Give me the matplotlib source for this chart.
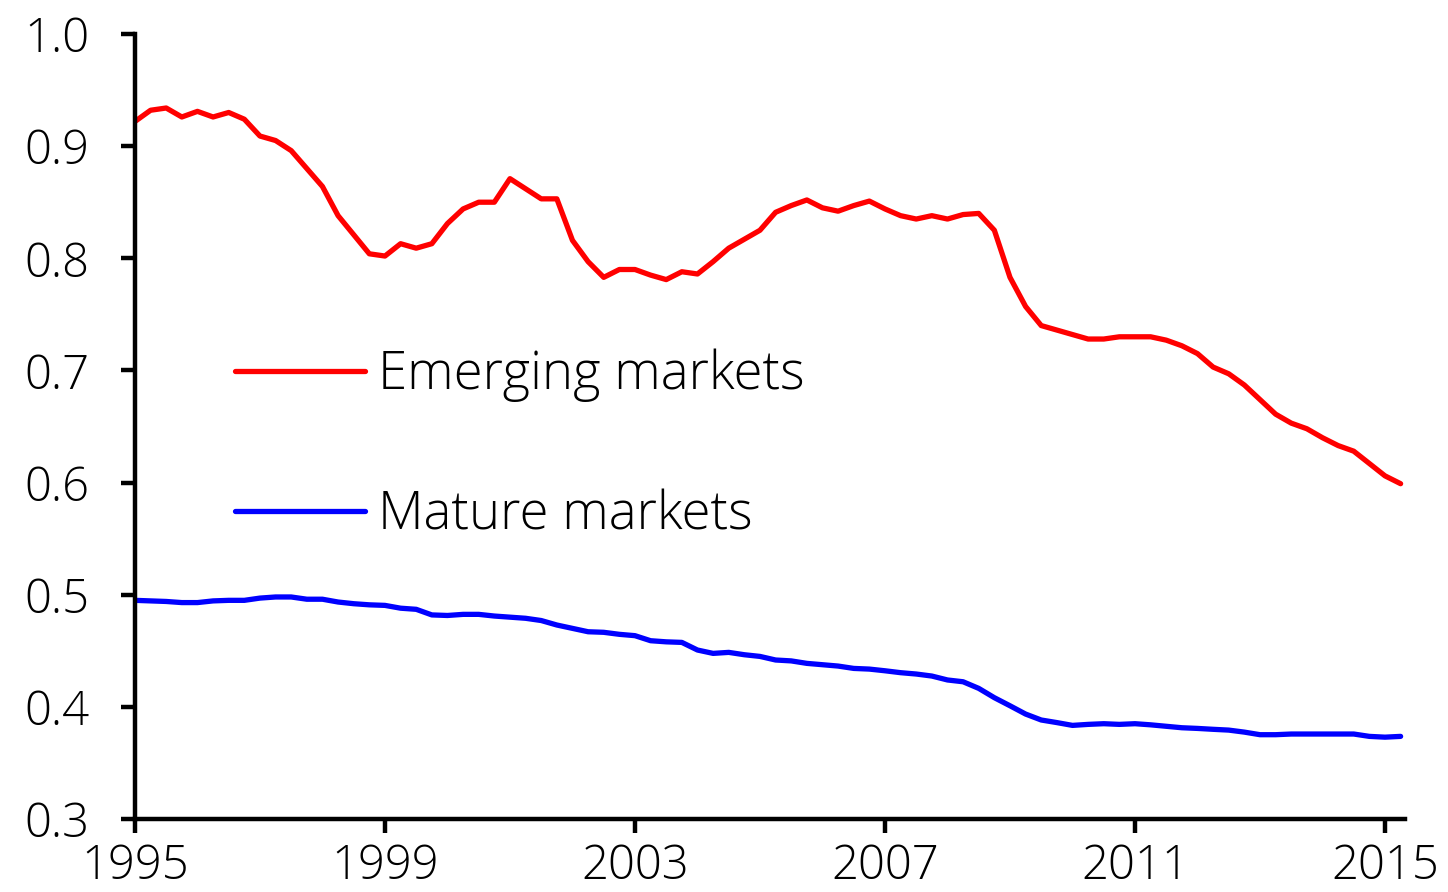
import numpy as np
import matplotlib
matplotlib.use('Agg')
import matplotlib.pyplot as plt

plt.rcParams['font.family'] = ['Open Sans', 'DejaVu Sans']
plt.rcParams['font.weight'] = 'light'

# quarterly observations, 1995Q1 .. 2015Q2
start_year = 1995
emerging = [
    0.922, 0.932, 0.934, 0.926, 0.931, 0.926, 0.930, 0.924, 0.909, 0.905,
    0.896, 0.880, 0.864, 0.838, 0.821, 0.804, 0.802, 0.813, 0.809, 0.813,
    0.831, 0.844, 0.850, 0.850, 0.871, 0.862, 0.853, 0.853, 0.816, 0.797,
    0.783, 0.790, 0.790, 0.785, 0.781, 0.788, 0.786, 0.797, 0.809, 0.817,
    0.825, 0.841, 0.847, 0.852, 0.845, 0.842, 0.847, 0.851, 0.844, 0.838,
    0.835, 0.838, 0.835, 0.839, 0.840, 0.825, 0.783, 0.757, 0.740, 0.736,
    0.732, 0.728, 0.728, 0.730, 0.730, 0.730, 0.727, 0.722, 0.715, 0.703,
    0.697, 0.687, 0.674, 0.661, 0.653, 0.648, 0.640, 0.633, 0.628, 0.617,
    0.606, 0.599,
]
mature = [
    0.495, 0.4945, 0.494, 0.493, 0.493, 0.4945, 0.495, 0.495, 0.497, 0.498,
    0.498, 0.496, 0.496, 0.4935, 0.492, 0.491, 0.4905, 0.488, 0.487, 0.482,
    0.4815, 0.4825, 0.4825, 0.481, 0.480, 0.479, 0.477, 0.473, 0.470, 0.467,
    0.4665, 0.4647, 0.4635, 0.459, 0.458, 0.4575, 0.4507, 0.4477, 0.4486, 0.4465,
    0.445, 0.4418, 0.441, 0.4388, 0.4376, 0.4364, 0.4343, 0.4337, 0.4322, 0.4305,
    0.4293, 0.4275, 0.424, 0.4224, 0.4165, 0.4082, 0.401, 0.3936, 0.3883, 0.386,
    0.3835, 0.3844, 0.385, 0.3844, 0.385, 0.384, 0.3827, 0.3814, 0.3808, 0.380,
    0.3793, 0.3775, 0.3752, 0.3752, 0.3758, 0.3758, 0.3758, 0.3758, 0.3758, 0.3737,
    0.373, 0.3737,
]
labels = ['Emerging markets', 'Mature markets']
year_ticks = [1995, 1999, 2003, 2007, 2011, 2015]
y_ticks = [0.3, 0.4, 0.5, 0.6, 0.7, 0.8, 0.9, 1.0]

t = start_year + np.arange(len(emerging)) / 4

fig = plt.figure(figsize=(14.48, 8.92), dpi=100)
ax = fig.add_axes([0.0932, 0.0818, 0.8771, 0.8801])

ax.plot(t, emerging, color='#ff0000', lw=3.8, label=labels[0], solid_capstyle='round')
ax.plot(t, mature, color='#0000ff', lw=3.8, label=labels[1], solid_capstyle='round')

ax.set_xlim(1995, 2015.32)
ax.set_ylim(0.3, 1.0)
ax.set_xticks(year_ticks)
ax.set_yticks(y_ticks)
ax.set_yticklabels([f'{v:.1f}' for v in y_ticks])

for side in ['top', 'right']:
    ax.spines[side].set_visible(False)
for side in ['left', 'bottom']:
    ax.spines[side].set_linewidth(3.2)

ax.tick_params(axis='both', direction='out', length=10, width=3.2, labelsize=34)
ax.tick_params(axis='y', pad=23)
ax.tick_params(axis='x', pad=7)

leg = ax.legend(loc='center left', bbox_to_anchor=(0.0787, 0.4756), frameon=False,
                fontsize=38, handlelength=2.46, handletextpad=0.25, labelspacing=1.64,
                borderpad=0, borderaxespad=0)

fig.savefig('out.png', dpi=100)
